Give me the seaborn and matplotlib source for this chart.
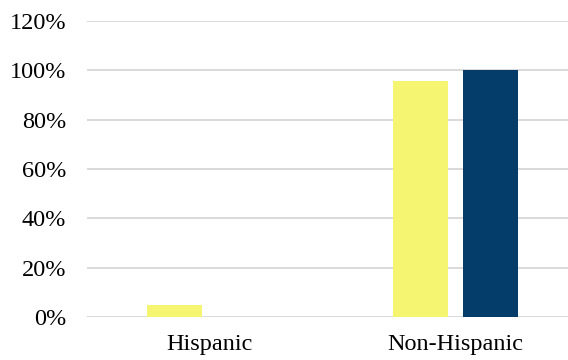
import matplotlib
matplotlib.use("Agg")
import matplotlib.pyplot as plt
import pandas as pd
import seaborn as sns
from matplotlib.ticker import PercentFormatter

# data
categories = ["Hispanic", "Non-Hispanic"]
series_names = ["Series 1", "Series 2"]
series_1 = [0.047, 0.956]
series_2 = [0.0, 1.0]
y_ticks = [0, 0.2, 0.4, 0.6, 0.8, 1.0, 1.2]

colors = ["#F5F571", "#043D69"]

df = pd.DataFrame({
    "category": categories * 2,
    "series": [series_names[0]] * 2 + [series_names[1]] * 2,
    "value": series_1 + series_2,
})

sns.set_theme(style="white")
plt.rcParams["font.family"] = ["Liberation Serif", "DejaVu Serif"]

fig = plt.figure(figsize=(5.68, 3.6), dpi=100)
ax = fig.add_axes([87 / 568, 43 / 360, 1 - 87 / 568, 296 / 360])

sns.barplot(
    data=df, x="category", y="value", hue="series",
    palette=colors, width=0.57, gap=0.214, legend=False,
    saturation=1, linewidth=0, ax=ax, zorder=3,
)

ax.set_ylim(0, 1.2)
ax.set_yticks(y_ticks)
ax.yaxis.set_major_formatter(PercentFormatter(1.0, decimals=0))
ax.set_xlim(-0.499, 1.46)
ax.grid(axis="y", color="#D9D9D9", linewidth=1.4, zorder=0)
ax.set_xlabel("")
ax.set_ylabel("")
for side in ["top", "right", "left", "bottom"]:
    ax.spines[side].set_visible(False)
ax.tick_params(axis="both", length=0, labelsize=17.5, colors="#000000")
ax.tick_params(axis="y", pad=15)
ax.tick_params(axis="x", pad=12)

fig.savefig("out.png", dpi=100)
